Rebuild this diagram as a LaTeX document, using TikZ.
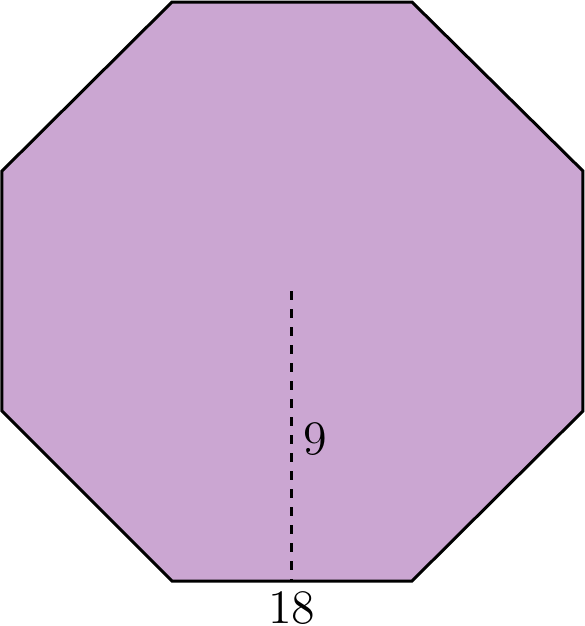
\documentclass[tikz,border=0pt]{standalone}
\definecolor{octfill}{RGB}{203,166,210}
\begin{document}
\begin{tikzpicture}[x=0.25pt,y=-0.25pt,
  octagon/.style={draw=black,fill=octfill,line width=0.75pt,line join=miter},
  heightline/.style={line width=0.75pt,dash pattern=on 2.25pt off 2.25pt},
  lab/.style={font=\fontsize{12}{14}\selectfont,inner sep=0pt,anchor=base}]
\useasboundingbox (0,0) rectangle (585,626);
\coordinate (v1) at (172,2);
\coordinate (v2) at (412,2);
\coordinate (v3) at (583,171);
\coordinate (v4) at (583,411);
\coordinate (v5) at (412,581);
\coordinate (v6) at (172,581);
\coordinate (v7) at (2,411);
\coordinate (v8) at (2,171);
\coordinate (c) at (292,291);
\coordinate (m) at (292,581);
\draw[octagon] (v1) -- (v2) -- (v3) -- (v4) -- (v5) -- (v6) -- (v7) -- (v8) -- cycle;
\draw[heightline] (c) -- (m);
\node[lab] (h) at (315.5,454) {9};
\node[lab] (s) at (292,623) {18};
\end{tikzpicture}
\end{document}
